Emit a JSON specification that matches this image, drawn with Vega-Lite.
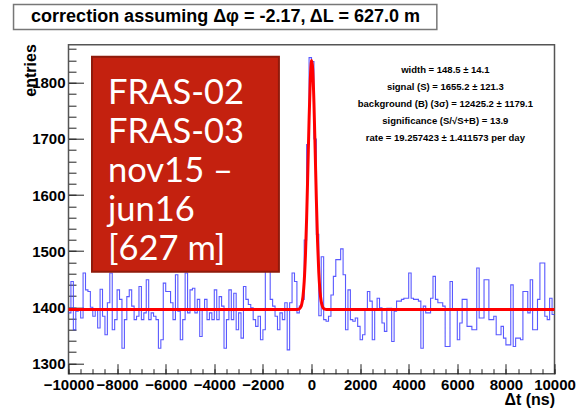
{
  "$schema": "https://vega.github.io/schema/vega-lite/v6.json",
  "width": 486,
  "height": 329,
  "autosize": {"type": "none"},
  "padding": {"left": 68.5, "top": 44.7, "right": 22.5, "bottom": 37.3},
  "background": "white",
  "config": {
    "font": "Liberation Sans",
    "view": {"stroke": "#555", "strokeWidth": 1.5},
    "axis": {
      "labelFont": "Liberation Sans",
      "labelFontWeight": "bold",
      "labelFontSize": 15,
      "labelColor": "#000",
      "titleFont": "Liberation Sans",
      "titleFontWeight": "bold",
      "titleFontSize": 16,
      "titleColor": "#000",
      "tickColor": "#222",
      "tickWidth": 1,
      "grid": false,
      "domain": false,
      "labelOverlap": false,
      "labelFlush": false
    }
  },
  "resolve": {"axis": {"x": "independent", "y": "independent"}},
  "datasets": {
    "hist": [
      {"t": -10000, "n": 1390}, {"t": -9900, "n": 1446}, {"t": -9800, "n": 1360}, {"t": -9700, "n": 1393}, {"t": -9600, "n": 1396},
      {"t": -9500, "n": 1381}, {"t": -9400, "n": 1461}, {"t": -9300, "n": 1431}, {"t": -9200, "n": 1428}, {"t": -9100, "n": 1400},
      {"t": -9000, "n": 1384}, {"t": -8900, "n": 1396}, {"t": -8800, "n": 1363}, {"t": -8700, "n": 1432}, {"t": -8600, "n": 1384},
      {"t": -8500, "n": 1351}, {"t": -8400, "n": 1408}, {"t": -8300, "n": 1461}, {"t": -8200, "n": 1360}, {"t": -8100, "n": 1378},
      {"t": -8000, "n": 1431}, {"t": -7900, "n": 1414}, {"t": -7800, "n": 1327}, {"t": -7700, "n": 1378}, {"t": -7600, "n": 1419},
      {"t": -7500, "n": 1431}, {"t": -7400, "n": 1402}, {"t": -7300, "n": 1378}, {"t": -7200, "n": 1384}, {"t": -7100, "n": 1437},
      {"t": -7000, "n": 1378}, {"t": -6900, "n": 1390}, {"t": -6800, "n": 1449}, {"t": -6700, "n": 1378}, {"t": -6600, "n": 1390},
      {"t": -6500, "n": 1384}, {"t": -6400, "n": 1378}, {"t": -6300, "n": 1327}, {"t": -6200, "n": 1342}, {"t": -6100, "n": 1443},
      {"t": -6000, "n": 1428}, {"t": -5900, "n": 1428}, {"t": -5800, "n": 1408}, {"t": -5700, "n": 1378}, {"t": -5600, "n": 1458},
      {"t": -5500, "n": 1393}, {"t": -5400, "n": 1342}, {"t": -5300, "n": 1378}, {"t": -5200, "n": 1461}, {"t": -5100, "n": 1390},
      {"t": -5000, "n": 1431}, {"t": -4900, "n": 1434}, {"t": -4800, "n": 1390}, {"t": -4700, "n": 1414}, {"t": -4600, "n": 1348},
      {"t": -4500, "n": 1396}, {"t": -4400, "n": 1414}, {"t": -4300, "n": 1378}, {"t": -4200, "n": 1390}, {"t": -4100, "n": 1378},
      {"t": -4000, "n": 1431}, {"t": -3900, "n": 1378}, {"t": -3800, "n": 1419}, {"t": -3700, "n": 1402}, {"t": -3600, "n": 1327},
      {"t": -3500, "n": 1378}, {"t": -3400, "n": 1431}, {"t": -3300, "n": 1378}, {"t": -3200, "n": 1425}, {"t": -3100, "n": 1360},
      {"t": -3000, "n": 1390}, {"t": -2900, "n": 1345}, {"t": -2800, "n": 1437}, {"t": -2700, "n": 1414}, {"t": -2600, "n": 1405},
      {"t": -2500, "n": 1399}, {"t": -2400, "n": 1378}, {"t": -2300, "n": 1366}, {"t": -2200, "n": 1384}, {"t": -2100, "n": 1342},
      {"t": -2000, "n": 1360}, {"t": -1900, "n": 1491}, {"t": -1800, "n": 1482}, {"t": -1700, "n": 1414}, {"t": -1600, "n": 1402},
      {"t": -1500, "n": 1384}, {"t": -1400, "n": 1360}, {"t": -1300, "n": 1390}, {"t": -1200, "n": 1378}, {"t": -1100, "n": 1408},
      {"t": -1000, "n": 1324}, {"t": -900, "n": 1408}, {"t": -800, "n": 1461}, {"t": -700, "n": 1446}, {"t": -600, "n": 1390},
      {"t": -500, "n": 1402}, {"t": -400, "n": 1414}, {"t": -300, "n": 1520}, {"t": -200, "n": 1690}, {"t": -100, "n": 1845},
      {"t": 0, "n": 1838}, {"t": 100, "n": 1700}, {"t": 200, "n": 1530}, {"t": 300, "n": 1385}, {"t": 400, "n": 1490},
      {"t": 500, "n": 1378}, {"t": 600, "n": 1375}, {"t": 700, "n": 1384}, {"t": 800, "n": 1422}, {"t": 900, "n": 1455},
      {"t": 1000, "n": 1485}, {"t": 1100, "n": 1485}, {"t": 1200, "n": 1504}, {"t": 1300, "n": 1458}, {"t": 1400, "n": 1360},
      {"t": 1500, "n": 1431}, {"t": 1600, "n": 1378}, {"t": 1700, "n": 1375}, {"t": 1800, "n": 1381}, {"t": 1900, "n": 1366},
      {"t": 2000, "n": 1342}, {"t": 2100, "n": 1351}, {"t": 2200, "n": 1396}, {"t": 2300, "n": 1428}, {"t": 2400, "n": 1411},
      {"t": 2500, "n": 1342}, {"t": 2600, "n": 1396}, {"t": 2700, "n": 1416}, {"t": 2800, "n": 1399}, {"t": 2900, "n": 1372},
      {"t": 3000, "n": 1357}, {"t": 3100, "n": 1398}, {"t": 3200, "n": 1398}, {"t": 3300, "n": 1339}, {"t": 3400, "n": 1393},
      {"t": 3500, "n": 1411}, {"t": 3600, "n": 1411}, {"t": 3700, "n": 1414}, {"t": 3800, "n": 1416}, {"t": 3900, "n": 1416},
      {"t": 4000, "n": 1461}, {"t": 4100, "n": 1416}, {"t": 4200, "n": 1414}, {"t": 4300, "n": 1414}, {"t": 4400, "n": 1411},
      {"t": 4500, "n": 1327}, {"t": 4600, "n": 1402}, {"t": 4700, "n": 1390}, {"t": 4800, "n": 1390}, {"t": 4900, "n": 1416},
      {"t": 5000, "n": 1455}, {"t": 5100, "n": 1414}, {"t": 5200, "n": 1408}, {"t": 5300, "n": 1408}, {"t": 5400, "n": 1402},
      {"t": 5500, "n": 1330}, {"t": 5600, "n": 1330}, {"t": 5700, "n": 1446}, {"t": 5800, "n": 1396}, {"t": 5900, "n": 1396},
      {"t": 6000, "n": 1342}, {"t": 6100, "n": 1372}, {"t": 6200, "n": 1414}, {"t": 6300, "n": 1414}, {"t": 6400, "n": 1366},
      {"t": 6500, "n": 1366}, {"t": 6600, "n": 1360}, {"t": 6700, "n": 1360}, {"t": 6800, "n": 1470}, {"t": 6900, "n": 1381},
      {"t": 7000, "n": 1381}, {"t": 7100, "n": 1449}, {"t": 7200, "n": 1449}, {"t": 7300, "n": 1378}, {"t": 7400, "n": 1378},
      {"t": 7500, "n": 1384}, {"t": 7600, "n": 1351}, {"t": 7700, "n": 1351}, {"t": 7800, "n": 1366}, {"t": 7900, "n": 1345},
      {"t": 8000, "n": 1333}, {"t": 8100, "n": 1333}, {"t": 8200, "n": 1440}, {"t": 8300, "n": 1330}, {"t": 8400, "n": 1345},
      {"t": 8500, "n": 1345}, {"t": 8600, "n": 1342}, {"t": 8700, "n": 1428}, {"t": 8800, "n": 1428}, {"t": 8900, "n": 1390},
      {"t": 9000, "n": 1449}, {"t": 9100, "n": 1360}, {"t": 9200, "n": 1360}, {"t": 9300, "n": 1414}, {"t": 9400, "n": 1479},
      {"t": 9500, "n": 1479}, {"t": 9600, "n": 1384}, {"t": 9700, "n": 1378}, {"t": 9800, "n": 1416}, {"t": 9900, "n": 1387},
      {"t": 10000, "n": 1387}
    ],
    "fit": [
      {"t": -10000, "f": 1396.0}, {"t": -700, "f": 1396.0}, {"t": -650, "f": 1396.0}, {"t": -600, "f": 1396.1},
      {"t": -550, "f": 1396.4}, {"t": -500, "f": 1397.2}, {"t": -450, "f": 1399.7}, {"t": -400, "f": 1405.8},
      {"t": -350, "f": 1419.5}, {"t": -300, "f": 1446.2}, {"t": -250, "f": 1491.9}, {"t": -200, "f": 1559.3},
      {"t": -150, "f": 1644.6}, {"t": -100, "f": 1733.4}, {"t": -50, "f": 1805.2}, {"t": 0, "f": 1839.0},
      {"t": 10, "f": 1840.0}, {"t": 50, "f": 1824.2}, {"t": 100, "f": 1765.5}, {"t": 150, "f": 1680.7},
      {"t": 200, "f": 1591.9}, {"t": 250, "f": 1516.3}, {"t": 300, "f": 1461.9}, {"t": 350, "f": 1428.3},
      {"t": 400, "f": 1410.1}, {"t": 450, "f": 1401.5}, {"t": 500, "f": 1397.9}, {"t": 550, "f": 1396.6},
      {"t": 600, "f": 1396.2}, {"t": 650, "f": 1396.0}, {"t": 700, "f": 1396.0}, {"t": 10000, "f": 1396.0}
    ]
  },
  "layer": [
    {
      "data": {"name": "hist"},
      "mark": {"type": "line", "interpolate": "step-after", "color": "#3c3cff", "strokeWidth": 1.1, "opacity": 0.85},
      "encoding": {
        "x": {
          "field": "t",
          "type": "quantitative",
          "scale": {"domain": [-10000, 10000], "nice": false, "zero": false},
          "axis": {
            "orient": "bottom",
            "values": [-10000, -8000, -6000, -4000, -2000, 0, 2000, 4000, 6000, 8000, 10000],
            "format": "d",
            "tickSize": -10,
            "labelPadding": 14,
            "labelOverlap": false,
            "labelFlush": false,
            "title": "Δt (ns)",
            "titleAnchor": "end",
            "titleAlign": "right",
            "titleBaseline": "alphabetic",
            "titleX": 486,
            "titleY": 31
          }
        },
        "y": {
          "field": "n",
          "type": "quantitative",
          "scale": {"domain": [1281.6, 1868], "nice": false, "zero": false},
          "axis": {
            "orient": "left",
            "values": [1300, 1400, 1500, 1600, 1700, 1800],
            "format": "d",
            "tickSize": -15,
            "labelPadding": 18.5,
            "labelOverlap": false,
            "title": "entries",
            "titleAnchor": "end",
            "titleAngle": -90,
            "titleAlign": "right",
            "titleBaseline": "alphabetic",
            "titleX": -33.5,
            "titleY": -1
          }
        }
      }
    },
    {
      "data": {"name": "fit"},
      "mark": {"type": "line", "interpolate": "monotone", "color": "#ff0000", "strokeWidth": 3},
      "encoding": {
        "x": {
          "field": "t",
          "type": "quantitative",
          "axis": {
            "orient": "bottom",
            "values": [-10000, -9500, -9000, -8500, -8000, -7500, -7000, -6500, -6000, -5500, -5000, -4500, -4000, -3500, -3000, -2500, -2000, -1500, -1000, -500, 0, 500, 1000, 1500, 2000, 2500, 3000, 3500, 4000, 4500, 5000, 5500, 6000, 6500, 7000, 7500, 8000, 8500, 9000, 9500, 10000],
            "tickSize": -5,
            "labels": false,
            "title": null
          }
        },
        "y": {
          "field": "f",
          "type": "quantitative",
          "axis": {
            "orient": "left",
            "values": [1300, 1320, 1340, 1360, 1380, 1400, 1420, 1440, 1460, 1480, 1500, 1520, 1540, 1560, 1580, 1600, 1620, 1640, 1660, 1680, 1700, 1720, 1740, 1760, 1780, 1800, 1820, 1840, 1860],
            "tickSize": -7.5,
            "labels": false,
            "title": null
          }
        }
      }
    },
    {
      "data": {"values": [{}]},
      "mark": {"type": "rect", "fill": "#c4210f", "stroke": "#8f1a0b", "strokeWidth": 2, "clip": false},
      "encoding": {
        "x": {"datum": -9033, "type": "quantitative", "axis": null},
        "x2": {"datum": -1341},
        "y": {"datum": 1846.3, "type": "quantitative", "axis": null},
        "y2": {"datum": 1463.3}
      }
    },
    {
      "data": {"values": [{}]},
      "mark": {
        "type": "text",
        "text": ["FRAS-02", "FRAS-03", "nov15 –", "jun16", "[627 m]"],
        "font": "Lato",
        "fontSize": 34.5,
        "lineHeight": 39,
        "color": "#ffffff",
        "align": "left",
        "baseline": "alphabetic",
        "clip": false
      },
      "encoding": {
        "x": {"datum": -8375, "type": "quantitative", "axis": null},
        "y": {"datum": 1762.6, "type": "quantitative", "axis": null}
      }
    },
    {
      "data": {"values": [{}]},
      "mark": {
        "type": "text",
        "text": ["width = 148.5 ±  14.1", "signal (S) = 1655.2 ± 121.3", "background (B) (3σ) = 12425.2 ± 1179.1", "significance (S/√S+B) =  13.9", "rate = 19.257423 ± 1.411573 per day"],
        "font": "Liberation Sans",
        "fontWeight": "bold",
        "fontSize": 9.5,
        "lineHeight": 17,
        "color": "#000000",
        "align": "center",
        "baseline": "alphabetic",
        "clip": false
      },
      "encoding": {
        "x": {"datum": 5508, "type": "quantitative", "axis": null},
        "y": {"datum": 1816.9, "type": "quantitative", "axis": null}
      }
    },
    {
      "data": {"values": [{}]},
      "mark": {"type": "rect", "fill": "#ffffff", "stroke": "#777777", "strokeWidth": 1.5, "clip": false},
      "encoding": {
        "x": {"datum": -12262, "type": "quantitative", "axis": null},
        "x2": {"datum": 5158},
        "y": {"datum": 1939.8, "type": "quantitative", "axis": null},
        "y2": {"datum": 1895.3}
      }
    },
    {
      "data": {"values": [{}]},
      "mark": {
        "type": "text",
        "text": "correction assuming Δφ = -2.17, ΔL = 627.0 m",
        "font": "Liberation Sans",
        "fontWeight": "bold",
        "fontSize": 18,
        "color": "#000000",
        "align": "center",
        "baseline": "middle",
        "clip": false
      },
      "encoding": {
        "x": {"datum": -3537, "type": "quantitative", "axis": null},
        "y": {"datum": 1917.6, "type": "quantitative", "axis": null}
      }
    }
  ]
}
